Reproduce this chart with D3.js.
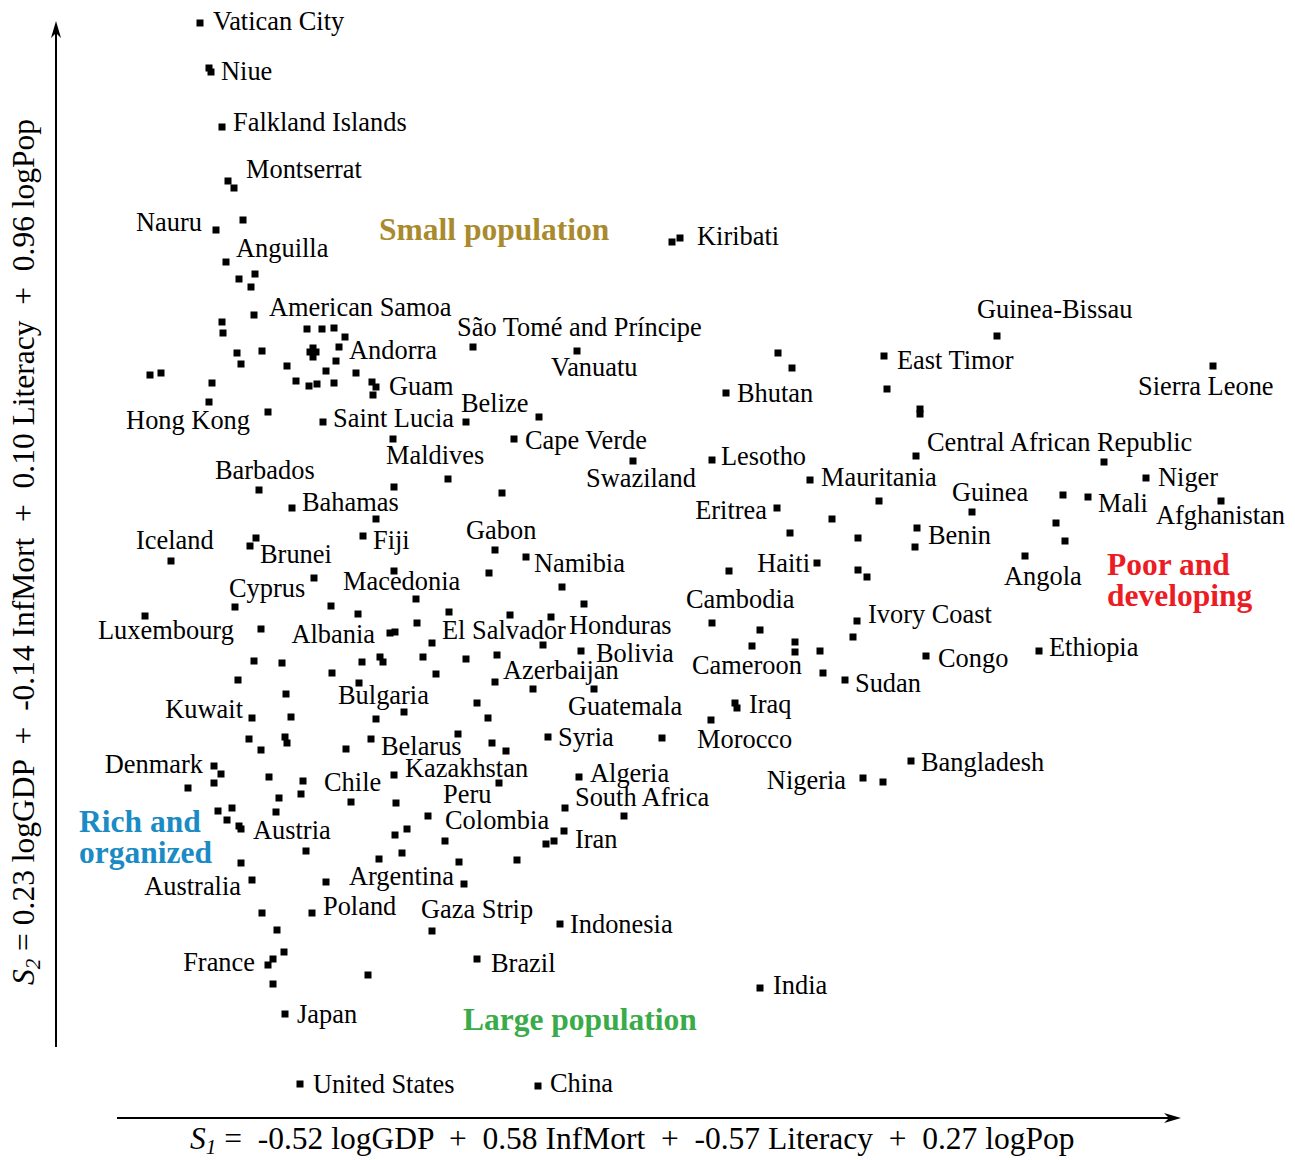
<!DOCTYPE html>
<html>
<head>
<meta charset="utf-8">
<script src="https://cdn.jsdelivr.net/npm/d3@7"></script>
<style>
  body { margin: 0; background: #fff; }
  svg { display: block; }
  text { font-family: "Liberation Serif", "Times New Roman", Times, serif; white-space: pre; }
</style>
</head>
<body>
<svg id="chart" width="1295" height="1160"></svg>
<script>
// Country scores on the first two principal components (S1, S2).
// Named countries carry a text label.
const labeledCountries = [
  ["Vatican City", -2.20, 2.585], ["Niue", -2.145, 2.34], ["Falkland Islands", -2.09, 2.065],
  ["Montserrat", -2.03, 1.76], ["Nauru", -2.12, 1.55], ["Anguilla", -2.07, 1.39],
  ["American Samoa", -1.93, 1.125], ["São Tomé and Príncipe", -0.835, 0.965], ["Andorra", -1.505, 0.965],
  ["Vanuatu", -0.315, 0.945], ["Guam", -1.32, 0.765], ["Hong Kong", -1.86, 0.64],
  ["Saint Lucia", -1.585, 0.59], ["Belize", -0.87, 0.59], ["Bhutan", 0.43, 0.735],
  ["Kiribati", 0.20, 1.51], ["Guinea-Bissau", 1.785, 1.02], ["East Timor", 1.22, 0.92],
  ["Sierra Leone", 2.865, 0.87], ["Cape Verde", -0.63, 0.505], ["Maldives", -1.235, 0.505],
  ["Lesotho", 0.36, 0.40], ["Central African Republic", 1.38, 0.42], ["Barbados", -1.905, 0.25],
  ["Swaziland", -0.035, 0.395], ["Mauritania", 0.85, 0.30], ["Niger", 2.53, 0.31],
  ["Guinea", 1.66, 0.14], ["Bahamas", -1.74, 0.16], ["Mali", 2.24, 0.215],
  ["Eritrea", 0.685, 0.16], ["Afghanistan", 2.905, 0.195], ["Gabon", -0.725, -0.05],
  ["Iceland", -2.345, -0.105], ["Fiji", -1.385, 0.02], ["Benin", 1.385, 0.06],
  ["Brunei", -1.95, -0.03], ["Namibia", -0.57, -0.085], ["Haiti", 0.885, -0.115],
  ["Angola", 1.925, -0.08], ["Macedonia", -1.23, -0.155], ["Cyprus", -2.025, -0.335],
  ["Cambodia", 0.36, -0.415], ["Ivory Coast", 1.085, -0.405], ["Luxembourg", -2.475, -0.38],
  ["Albania", -1.25, -0.465], ["El Salvador", -1.04, -0.515], ["Honduras", -0.445, -0.385],
  ["Bolivia", -0.295, -0.555], ["Ethiopia", 1.995, -0.555], ["Congo", 1.43, -0.58],
  ["Cameroon", 0.56, -0.53], ["Azerbaijan", -0.725, -0.71], ["Sudan", 1.025, -0.70],
  ["Bulgaria", -1.405, -0.715], ["Guatemala", -0.23, -0.745], ["Iraq", 0.485, -0.84],
  ["Kuwait", -1.94, -0.89], ["Syria", -0.46, -0.985], ["Morocco", 0.355, -0.90],
  ["Belarus", -1.345, -0.995], ["Denmark", -2.13, -1.13], ["Kazakhstan", -1.23, -1.175],
  ["Bangladesh", 1.355, -1.105], ["Algeria", -0.305, -1.185], ["Chile", -1.445, -1.31],
  ["Nigeria", 1.115, -1.19], ["Peru", -0.705, -1.215], ["South Africa", -0.375, -1.34],
  ["Colombia", -1.06, -1.38], ["Austria", -1.995, -1.445], ["Iran", -0.38, -1.455],
  ["Argentina", -0.88, -1.72], ["Australia", -1.94, -1.70], ["Poland", -1.64, -1.865],
  ["Gaza Strip", -1.04, -1.955], ["Indonesia", -0.40, -1.92], ["France", -1.86, -2.125],
  ["Brazil", -0.815, -2.095], ["India", 0.60, -2.24], ["Japan", -1.775, -2.37],
  ["United States", -1.70, -2.72], ["China", -0.51, -2.73]
];

// Countries drawn without a label.
const otherCountries = [
  [-2.155, 2.36], [-2.06, 1.795], [-1.985, 1.60],
  [-2.005, 1.305], [-1.925, 1.33], [-1.945, 1.265],
  [-2.09, 1.09], [-2.085, 1.035],
  [-1.665, 1.055], [-1.59, 1.055], [-1.53, 1.06], [-1.475, 1.015],
  [-2.015, 0.935], [-1.89, 0.945], [-1.995, 0.88],
  [-1.65, 0.94], [-1.62, 0.94], [-1.635, 0.96], [-1.635, 0.915],
  [-1.52, 0.895], [-1.765, 0.87], [-1.57, 0.845], [-1.42, 0.835],
  [-2.45, 0.825], [-2.395, 0.835], [-2.14, 0.785], [-2.155, 0.69],
  [-1.72, 0.795], [-1.655, 0.77], [-1.615, 0.78], [-1.53, 0.785],
  [-1.34, 0.79], [-1.335, 0.725], [-1.23, 0.265], [-1.32, 0.105],
  [-1.92, 0.01], [-1.63, -0.19], [-1.545, -0.33], [-1.41, -0.37], [-1.12, -0.295],
  [-1.895, -0.445], [-1.225, -0.46], [-1.115, -0.415],
  [-1.93, -0.605], [-1.79, -0.615], [-1.39, -0.61], [-1.30, -0.585], [-1.285, -0.61],
  [-1.085, -0.585], [-2.01, -0.70], [-1.54, -0.665], [-1.02, -0.67], [-1.77, -0.77],
  [-1.18, -0.86], [-1.745, -0.885], [-1.32, -0.895],
  [-1.955, -0.995], [-1.775, -0.985], [-1.765, -1.015], [-1.47, -1.045], [-1.895, -1.05],
  [-2.095, -1.17], [-2.13, -1.215], [-2.26, -1.24], [-1.855, -1.185],
  [-1.685, -1.205], [-1.695, -1.27], [-1.805, -1.29], [-1.22, -1.315],
  [-2.11, -1.355], [-2.04, -1.34], [-2.065, -1.40], [-2.005, -1.43], [-1.82, -1.36],
  [-1.165, -1.445], [-1.225, -1.475], [-1.67, -1.555], [-1.19, -1.565], [-1.305, -1.595],
  [-1.995, -1.615], [-1.57, -1.71], [-1.89, -1.865], [-1.815, -1.95],
  [-1.78, -2.06], [-1.835, -2.095], [-1.36, -2.175], [-1.835, -2.22],
  [-0.505, 0.615], [-0.96, 0.305], [-0.69, 0.235], [0.96, 0.105], [0.75, 0.035], [1.09, 0.01],
  [-0.755, -0.165], [-0.39, -0.235], [-0.28, -0.32], [0.445, -0.155], [1.09, -0.15], [1.135, -0.185],
  [-0.955, -0.36], [-0.65, -0.375], [-0.485, -0.525], [-0.87, -0.595], [-0.715, -0.575],
  [-0.535, -0.745], [-0.815, -0.815], [-0.76, -0.89],
  [0.60, -0.45], [0.775, -0.51], [0.775, -0.56], [0.90, -0.555], [1.065, -0.485], [0.915, -0.665],
  [0.475, -0.815], [0.11, -0.99], [-0.91, -0.97], [-0.74, -1.015], [-0.67, -1.055],
  [0.16, 1.49], [0.69, 0.935], [0.76, 0.86], [1.235, 0.755], [1.40, 0.655], [1.40, 0.63],
  [2.32, 0.39], [2.115, 0.225], [1.195, 0.195], [1.375, -0.035], [2.08, 0.085], [2.125, -0.005],
  [-0.08, -1.38], [-0.43, -1.505], [-0.47, -1.52], [-0.975, -1.505], [-0.905, -1.61],
  [-0.615, -1.60], [1.215, -1.21]
];

// Cluster annotations: text lines, anchor in score space, colour.
const clusterNames = [
  { lines: ["Small population"], s1: -1.305, s2: 1.50, color: "#a98b2e" },
  { lines: ["Poor and", "developing"], s1: 2.335, s2: -0.175, color: "#ec1c24" },
  { lines: ["Rich and", "organized"], s1: -2.805, s2: -1.46, color: "#1a8bc4" },
  { lines: ["Large population"], s1: -0.885, s2: -2.45, color: "#3aab49" }
];

// Label placement relative to each marker: [dx, dy, anchor].
const labelPlacement = {
  "Vatican City": [13, 7], "Niue": [10, 8], "Falkland Islands": [11, 4], "Montserrat": [12, -10],
  "Nauru": [-14, 1, "end"], "Anguilla": [10, -5], "American Samoa": [15, 1],
  "São Tomé and Príncipe": [-16, -11], "Andorra": [10, 12], "Vanuatu": [-26, 25], "Guam": [13, 8],
  "Hong Kong": [-18, 17, "end"], "Saint Lucia": [10, 5], "Belize": [-5, -10], "Bhutan": [11, 9],
  "Kiribati": [17, 7], "Guinea-Bissau": [-20, -18], "East Timor": [13, 13], "Sierra Leone": [-75, 29],
  "Cape Verde": [11, 10], "Maldives": [-7, 25], "Lesotho": [9, 5], "Central African Republic": [11, -5],
  "Barbados": [-44, -11], "Swaziland": [-47, 26], "Mauritania": [11, 6], "Niger": [12, 8],
  "Guinea": [-20, -11], "Bahamas": [10, 3], "Mali": [10, 15], "Eritrea": [-10, 11, "end"],
  "Afghanistan": [-65, 23], "Gabon": [-29, -11], "Iceland": [-35, -12], "Fiji": [10, 13],
  "Benin": [11, 16], "Brunei": [10, 17], "Namibia": [8, 15], "Haiti": [-7, 9, "end"],
  "Angola": [-21, 29], "Macedonia": [-51, 19], "Cyprus": [-6, -10], "Cambodia": [-26, -15],
  "Ivory Coast": [11, 2], "Luxembourg": [-47, 23], "Albania": [-15, 10, "end"], "El Salvador": [10, -4],
  "Honduras": [18, 17], "Bolivia": [15, 11], "Ethiopia": [10, 5], "Congo": [12, 11],
  "Cameroon": [-60, 28], "Azerbaijan": [8, -3], "Sudan": [10, 12], "Bulgaria": [-21, 21],
  "Guatemala": [-26, 26], "Iraq": [12, 5], "Kuwait": [-9, 0, "end"], "Syria": [10, 9],
  "Morocco": [-14, 28], "Belarus": [10, 16], "Denmark": [-11, 7, "end"], "Kazakhstan": [11, 2],
  "Bangladesh": [10, 10], "Algeria": [11, 5], "Chile": [-27, -11], "Nigeria": [-17, 11, "end"],
  "Peru": [-56, 20], "South Africa": [10, -2], "Colombia": [17, 13], "Austria": [12, 10],
  "Iran": [11, 17], "Argentina": [-10, 1, "end"], "Australia": [-11, 15, "end"], "Poland": [11, 2],
  "Gaza Strip": [-11, -13], "Indonesia": [10, 9], "France": [-13, 6, "end"], "Brazil": [14, 13],
  "India": [13, 6], "Japan": [12, 9], "United States": [13, 9], "China": [12, 6]
};

const svg = d3.select("#chart");
const x = d3.scaleLinear().domain([-3, 3]).range([40, 1240]);
const y = d3.scaleLinear().domain([-3, 2.5]).range([1140, 40]);

// Axes: plain arrows without ticks
const axisX = { y: 1118, x0: 117, x1: 1181 };
const axisY = { x: 56, y0: 1047, y1: 21 };
const axes = svg.append("g");
axes.append("line").attr("x1", axisX.x0).attr("x2", axisX.x1 - 10)
  .attr("y1", axisX.y).attr("y2", axisX.y).attr("stroke", "#000").attr("stroke-width", 2);
axes.append("path")
  .attr("d", `M${axisX.x1},${axisX.y} L${axisX.x1 - 17},${axisX.y - 5} L${axisX.x1 - 12},${axisX.y} L${axisX.x1 - 17},${axisX.y + 5} Z`)
  .attr("fill", "#000");
axes.append("line").attr("x1", axisY.x).attr("x2", axisY.x)
  .attr("y1", axisY.y0).attr("y2", axisY.y1 + 10).attr("stroke", "#000").attr("stroke-width", 2);
axes.append("path")
  .attr("d", `M${axisY.x},${axisY.y1} L${axisY.x - 5},${axisY.y1 + 17} L${axisY.x},${axisY.y1 + 12} L${axisY.x + 5},${axisY.y1 + 17} Z`)
  .attr("fill", "#000");

// Axis titles
const titleSize = 31.5;
const subSize = 21;
const xTitle = svg.append("text").attr("x", 190).attr("y", 1149).attr("font-size", titleSize);
xTitle.append("tspan").attr("font-style", "italic").text("S");
xTitle.append("tspan").attr("font-style", "italic").attr("font-size", subSize).attr("dy", 5).text("1");
xTitle.append("tspan").attr("dy", -5).text(" =  -0.52 logGDP  +  0.58 InfMort  +  -0.57 Literacy  +  0.27 logPop");

const yTitle = svg.append("text").attr("transform", "translate(34,985) rotate(-90)").attr("font-size", titleSize);
yTitle.append("tspan").attr("font-style", "italic").text("S");
yTitle.append("tspan").attr("font-style", "italic").attr("font-size", subSize).attr("dy", 6).text("2");
yTitle.append("tspan").attr("dy", -6).text(" = 0.23 logGDP  +  -0.14 InfMort  +  0.10 Literacy  +  0.96 logPop");

// Markers
const size = 7;
const marks = svg.append("g");
marks.selectAll("rect.other").data(otherCountries).join("rect")
  .attr("class", "other")
  .attr("x", d => x(d[0]) - size / 2).attr("y", d => y(d[1]) - size / 2)
  .attr("width", size).attr("height", size).attr("fill", "#000");
marks.selectAll("rect.named").data(labeledCountries).join("rect")
  .attr("class", "named")
  .attr("x", d => x(d[1]) - size / 2).attr("y", d => y(d[2]) - size / 2)
  .attr("width", size).attr("height", size).attr("fill", "#000");

// Country labels
svg.append("g").selectAll("text").data(labeledCountries).join("text")
  .attr("x", d => x(d[1]) + labelPlacement[d[0]][0])
  .attr("y", d => y(d[2]) + labelPlacement[d[0]][1])
  .attr("text-anchor", d => labelPlacement[d[0]][2] || "start")
  .attr("font-size", 26.4)
  .attr("fill", "#000")
  .text(d => d[0]);

// Cluster annotations
const groups = svg.append("g").selectAll("text").data(clusterNames).join("text")
  .attr("x", d => x(d.s1)).attr("y", d => y(d.s2))
  .attr("font-size", 31.5).attr("font-weight", "bold")
  .attr("fill", d => d.color);
groups.selectAll("tspan").data(d => d.lines.map((t, i) => ({ t, i, s1: d.s1 }))).join("tspan")
  .attr("x", d => x(d.s1)).attr("dy", d => d.i === 0 ? 0 : 31)
  .text(d => d.t);
</script>
</body>
</html>
